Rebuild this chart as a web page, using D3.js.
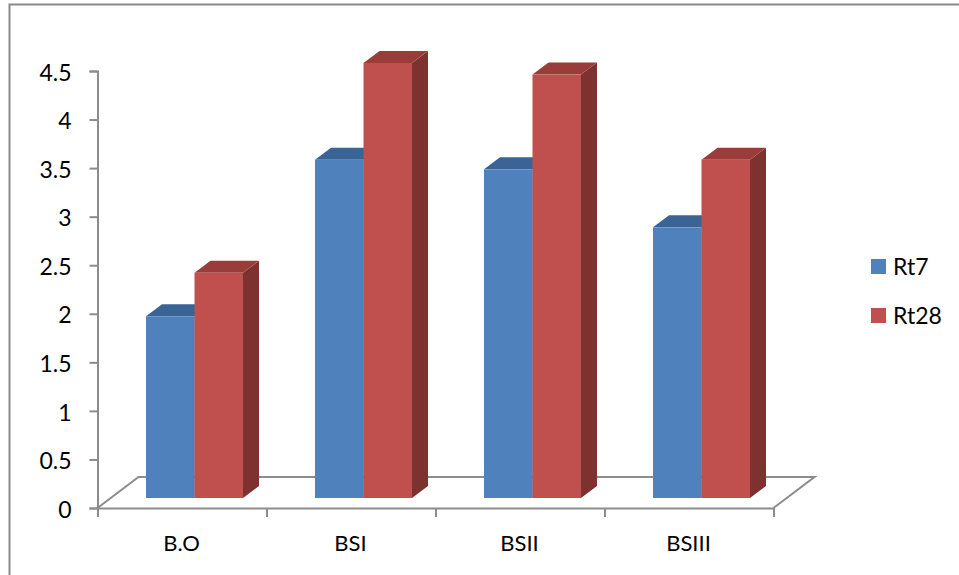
<!DOCTYPE html>
<html><head><meta charset="utf-8">
<script src="https://cdnjs.cloudflare.com/ajax/libs/d3/7.8.5/d3.min.js"></script>
<style>html,body{margin:0;background:#fff}svg{display:block}text{font-family:Lato,"Open Sans",sans-serif;fill:#000}</style>
</head><body><svg id="c" width="959" height="575"></svg>
<script>
const categories=["B.O","BSI","BSII","BSIII"];
const seriesNames=["Rt7","Rt28"];
const rt7=[1.88,3.5,3.4,2.8];
const rt28=[2.33,4.5,4.38,3.5];
const yTicks=[0,0.5,1,1.5,2,2.5,3,3.5,4,4.5];
const frontColors=["#4F81BD","#C0504D"];
const topColors=["#3A6496","#9A3D3A"];
const sideColors=["#2F527C","#7D3230"];

const svg=d3.select("#c");
const axisGrey="#8c8c8c";
svg.append("path").attr("d","M9.5 575V4.5H959").attr("fill","none").attr("stroke","#8a8a8a").attr("stroke-width",2);

const y=d3.scaleLinear().domain([0,4.5]).range([508,71]);
const yBar=d3.scaleLinear().domain([0,4.5]).range([498,63]);
const x=d3.scalePoint().domain(d3.range(5)).range([97.5,773.5]);
const xBand=d3.scaleBand().domain(categories).range([110,786]).paddingInner(72/169).paddingOuter(72/338);
const xSeries=d3.scaleBand().domain(seriesNames).range([0,xBand.bandwidth()]);
const dx=16,dy=-12;

// floor
const fdx=41,fdy=-31;
svg.append("path").attr("fill","none").attr("stroke",axisGrey).attr("stroke-width",2)
  .attr("d",`M${x(0)} ${y(0)}L${x(0)+fdx} ${y(0)+fdy}H${x(4)+fdx}L${x(4)} ${y(0)}`);

// axes
const yAxis=svg.append("g").attr("transform",`translate(${x(0)},0)`)
  .call(d3.axisLeft(y).tickValues(yTicks).tickSize(8).tickPadding(18).tickFormat(d3.format("~g")));
const xAxis=svg.append("g").attr("transform",`translate(0,${y(0)})`)
  .call(d3.axisBottom(x).tickSize(9).tickFormat(""));
[yAxis,xAxis].forEach(g=>{g.selectAll("path").attr("stroke",axisGrey).attr("stroke-width",2);
  g.selectAll("line").attr("stroke",axisGrey).attr("stroke-width",2);
  g.attr("font-family",null).attr("font-size",null);});
yAxis.selectAll("text").attr("font-size",23).attr("dy","0.4em");

svg.append("g").selectAll("text").data(categories).join("text")
  .attr("x",(d,i)=>(x(i)+x(i+1))/2-0.5).attr("y",551).attr("text-anchor","middle")
  .attr("font-size",22).text(d=>d);

// bars
const series=[rt7,rt28];
seriesNames.forEach((name,s)=>{
  const g=svg.append("g");
  categories.forEach((cat,i)=>{
    const v=series[s][i];
    const x0=xBand(cat)+xSeries(name),w=xSeries.bandwidth(),y0=yBar(v),b=yBar(0);
    g.append("path").attr("fill",sideColors[s])
      .attr("d",`M${x0+w} ${y0}l${dx} ${dy}V${b+dy}l${-dx} ${-dy}Z`);
    g.append("path").attr("fill",topColors[s])
      .attr("d",`M${x0} ${y0}l${dx} ${dy}h${w}l${-dx} ${-dy}Z`);
    g.append("rect").attr("x",x0).attr("y",y0).attr("width",w).attr("height",b-y0).attr("fill",frontColors[s]);
  });
});

// legend
const leg=d3.scalePoint().domain(seriesNames).range([267,316]);
seriesNames.forEach((name,s)=>{
  svg.append("rect").attr("x",871).attr("y",leg(name)-8).attr("width",15).attr("height",15).attr("fill",frontColors[s]);
  svg.append("text").attr("x",893).attr("y",leg(name)+8).attr("font-size",23).text(name);
});
</script></body></html>
